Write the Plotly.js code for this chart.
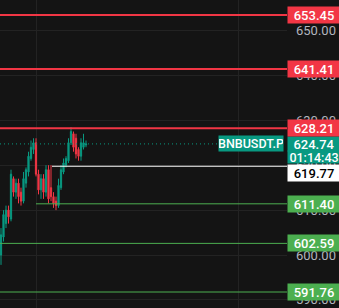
<!DOCTYPE html>
<html><head><meta charset="utf-8">
<script src="https://cdn.plot.ly/plotly-3.0.1.min.js"></script>
<style>html,body{margin:0;padding:0;background:#141414;}#chart{width:339px;height:308px;}</style>
</head><body><div id="chart"></div>
<script>
// Candle data (index-based bars)
const barIndex = [0,1,2,3,4,5,6,7,8,9,10,11,12,13,14,15,16,17,18,19,20,21,22,23,24,25,26,27,28,29,30,31,32,33,34];
const openP  = [600,604,607,610,608,617,614,616,614,612,616,618.5,621.5,623.5,625,618,614.5,617,614,619,615,613,612,611,615,618.5,620,621,625,627,626,623.5,622,624,624.5];
const highP  = [606,610,611,611,619,617.5,617,617,615,618.5,619.5,623,625.5,626,626,619,618,618,620,620,620,614,613,617,620,621.5,622,626,628.5,627.5,627,624,626,627,625.5];
const lowP   = [597.8,603,606,607,607.5,613,612.5,611.5,611,611.5,615,617.5,621,622.5,617.5,613.5,612.5,612.5,613,611.5,612,610.5,610,610.5,614.5,618,619.5,620.5,624.5,623,621.5,621,621,623.5,624];
const closeP = [604.5,609,610,608.5,618,614,616,613,612,617,619,622,624,625,618,614.5,617,614,619,612.5,613,611.5,611,615.5,619,620.5,621.5,625,627.5,624,622.5,622,625,625,624.74];

// Horizontal levels
const levelPrices = [653.45, 641.41, 628.21, 619.77, 611.40, 602.59, 591.76];
const levelStart  = [-0.4, -0.4, -0.4, 20.4, 14.0, -0.4, -0.4];
const labelText   = ['653.45','641.41','628.21','619.77','611.40','602.59','591.76'];

// styles
const levelColors = ['#f23645','#f23645','#f23645','#ffffff','#4caf50','#4caf50','#4caf50'];
const levelWidths = [2, 2, 2, 1, 1, 1, 1];
const labelTextColor = ['#ffffff','#ffffff','#ffffff','#000000','#ffffff','#ffffff','#ffffff'];
const labelShift = [0, 0, 0, -7, 0, 0, 0];

const lastPrice = 624.74;
const countdown = '01:14:43';
const symbol = 'BNBUSDT.P';
const yTicks = [590,600,610,620,630,640,650];

const xMin = -0.4, xMax = 114.4;

const traces = [];
levelPrices.forEach((p,i)=>{
  traces.push({type:'scatter',mode:'lines',x:[levelStart[i],xMax],y:[p,p],
    line:{color:levelColors[i],width:levelWidths[i]},hoverinfo:'skip',showlegend:false});
});
traces.push({type:'scatter',mode:'lines',x:[xMin,87],y:[lastPrice,lastPrice],
  line:{color:'#089981',width:1,dash:'1px,3px'},hoverinfo:'skip',showlegend:false});
traces.push({type:'candlestick',x:barIndex,open:openP,high:highP,low:lowP,close:closeP,
  increasing:{line:{color:'#089981',width:1},fillcolor:'#089981'},
  decreasing:{line:{color:'#f23645',width:1},fillcolor:'#f23645'},
  whiskerwidth:0,showlegend:false,hoverinfo:'skip'});

const fontL = {family:'Roboto, "Liberation Sans", sans-serif',size:13,weight:500};
const annotations = [];
annotations.push({xref:'paper',yref:'y',x:1,y:lastPrice,xanchor:'left',yanchor:'middle',yshift:0,
  text:lastPrice.toFixed(2),showarrow:false,bgcolor:'#089981',width:52,height:14,
  align:'center',borderpad:0,font:Object.assign({},fontL,{color:'#ffffff'})});
annotations.push({xref:'paper',yref:'y',x:1,y:lastPrice,xanchor:'left',yanchor:'middle',yshift:-13,
  text:countdown,showarrow:false,bgcolor:'#089981',width:52,height:12,
  align:'center',borderpad:0,font:Object.assign({},fontL,{color:'#ffffff',size:12.5})});
annotations.push({xref:'paper',yref:'y',x:284/287,y:lastPrice,xanchor:'right',yanchor:'middle',
  text:symbol,showarrow:false,bgcolor:'#089981',height:15,width:64,borderpad:0,
  font:Object.assign({},fontL,{color:'#ffffff',size:12.5})});
levelPrices.forEach((p,i)=>annotations.push({
  xref:'paper',yref:'y',x:1,y:p,xanchor:'left',yanchor:'middle',yshift:labelShift[i],
  text:labelText[i],showarrow:false,bgcolor:levelColors[i],width:52,height:16,
  align:'center',borderpad:0,font:Object.assign({},fontL,{color:labelTextColor[i]})
}));

const layout = {
  width:339,height:308,margin:{l:0,r:52,t:0,b:0},
  paper_bgcolor:'#141414',plot_bgcolor:'#141414',
  xaxis:{range:[xMin,xMax],showticklabels:false,tickvals:[14.0,94.8],gridcolor:'#232323',
    zeroline:false,rangeslider:{visible:false},fixedrange:true,showline:false},
  yaxis:{range:[588.2,656.79],side:'right',tickvals:yTicks,ticktext:yTicks.map(v=>v.toFixed(2)),
    gridcolor:'#232323',zeroline:false,showline:false,ticks:'',ticklabelstandoff:8,
    tickfont:{family:'Roboto, "Liberation Sans", sans-serif',size:13,color:'#b2b5be'}},
  annotations:annotations,showlegend:false
};
Plotly.newPlot('chart',traces,layout,{staticPlot:true,displayModeBar:false});
</script></body></html>
